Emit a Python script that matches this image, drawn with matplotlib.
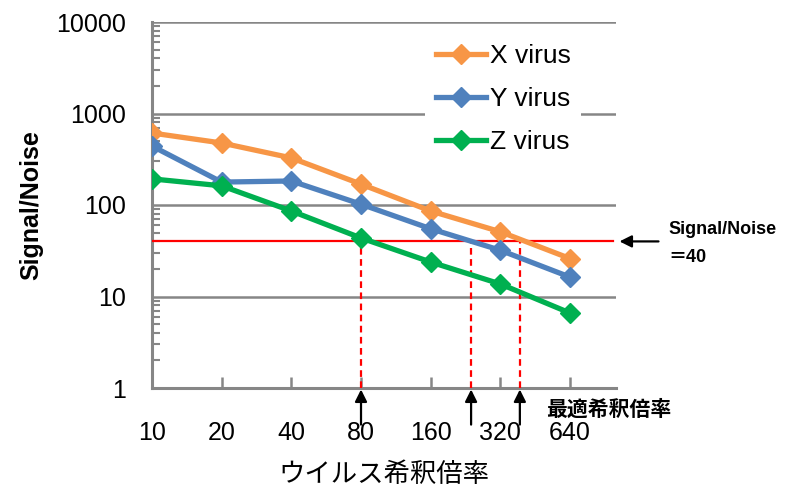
import matplotlib
matplotlib.use("Agg")
import matplotlib.pyplot as plt

plt.rcParams['font.family'] = ['Liberation Sans', 'Noto Sans CJK JP']

dilutions = ['10', '20', '40', '80', '160', '320', '640']
x_virus = [612, 476, 327, 169, 86, 51, 26]
y_virus = [441, 178, 183, 102, 55, 32, 16.3]
z_virus = [193, 162, 86, 43.6, 23.8, 13.7, 6.6]
threshold = 40
# where each curve crosses S/N = 40 (category position)
crossings = [3.0, 4.58, 5.28]

grey = '#868686'
pos = list(range(len(dilutions)))

fig = plt.figure(figsize=(7.85, 4.88), dpi=100)
ax = fig.add_axes([152 / 785, 1 - 388 / 488, (616 - 152) / 785, (388 - 22) / 488])

ax.plot(pos, x_virus, color='#F79646', marker='D', ms=10, lw=3.8, label='X virus', zorder=4)
ax.plot(pos, y_virus, color='#4F81BD', marker='D', ms=10, lw=3.8, label='Y virus', zorder=4)
ax.plot(pos, z_virus, color='#00B050', marker='D', ms=10, lw=3.8, label='Z virus', zorder=4)

ax.set_yscale('log')
ax.set_ylim(1, 10000)
ax.set_xlim(0, 6.66)

ax.axhline(threshold, color='red', lw=1.6, xmax=(613 - 152) / (616 - 152), zorder=3)
ax.vlines(crossings, 1, threshold, colors='red', linestyles=(0, (3, 2)), lw=1.6, zorder=3)

ax.grid(axis='y', which='major', color=grey, lw=1.8)
ax.set_axisbelow(True)
for s in ['top', 'right']:
    ax.spines[s].set_visible(False)
for s in ['left', 'bottom']:
    ax.spines[s].set_color(grey)
    ax.spines[s].set_linewidth(2.2)

ax.set_xticks(pos)
ax.set_xticklabels(dilutions, fontsize=18)
ax.tick_params(axis='x', direction='in', length=8, width=1.8, color=grey, pad=24)
ax.tick_params(axis='y', which='major', direction='in', length=0, pad=19, labelsize=18)
ax.tick_params(axis='y', which='minor', direction='in', length=6, width=1.5, color=grey)
ax.set_yticks([1, 10, 100, 1000, 10000])
ax.set_yticklabels(['1', '10', '100', '1000', '10000'])

ax.set_ylabel('Signal/Noise', fontsize=18, fontweight='bold', labelpad=9)
ax.set_xlabel('ウイルス希釈倍率', fontsize=19, labelpad=12)

leg = ax.legend(loc='upper left', bbox_to_anchor=(0.56, 1.005), fontsize=19,
                frameon=True, facecolor='white', edgecolor='none', framealpha=1,
                handlelength=1.9, labelspacing=0.72, handletextpad=0.15, borderpad=0.4)

# arrows pointing up at the optimal dilution
for c in crossings:
    ax.annotate('', xy=(c, -0.004), xycoords=('data', 'axes fraction'),
                xytext=(c, -0.1), textcoords=('data', 'axes fraction'),
                arrowprops=dict(arrowstyle='-|>', color='black', lw=1.6, mutation_scale=18,
                                shrinkA=0, shrinkB=0),
                annotation_clip=False)

ax.annotate('', xy=(6.71, threshold), xytext=(7.27, threshold),
            arrowprops=dict(arrowstyle='-|>', color='black', lw=1.6, mutation_scale=18,
                            shrinkA=0, shrinkB=0),
            annotation_clip=False)

fig.text(668 / 785, 1 - 230 / 488, 'Signal/Noise', fontsize=13, fontweight='bold', va='center')
fig.text(668 / 785, 1 - 258 / 488, '＝40', fontsize=13, fontweight='bold', va='center')
fig.text(546 / 785, 1 - 410 / 488, '最適希釈倍率', fontsize=15, fontweight='bold', va='center')

fig.savefig('out.png', dpi=100)
